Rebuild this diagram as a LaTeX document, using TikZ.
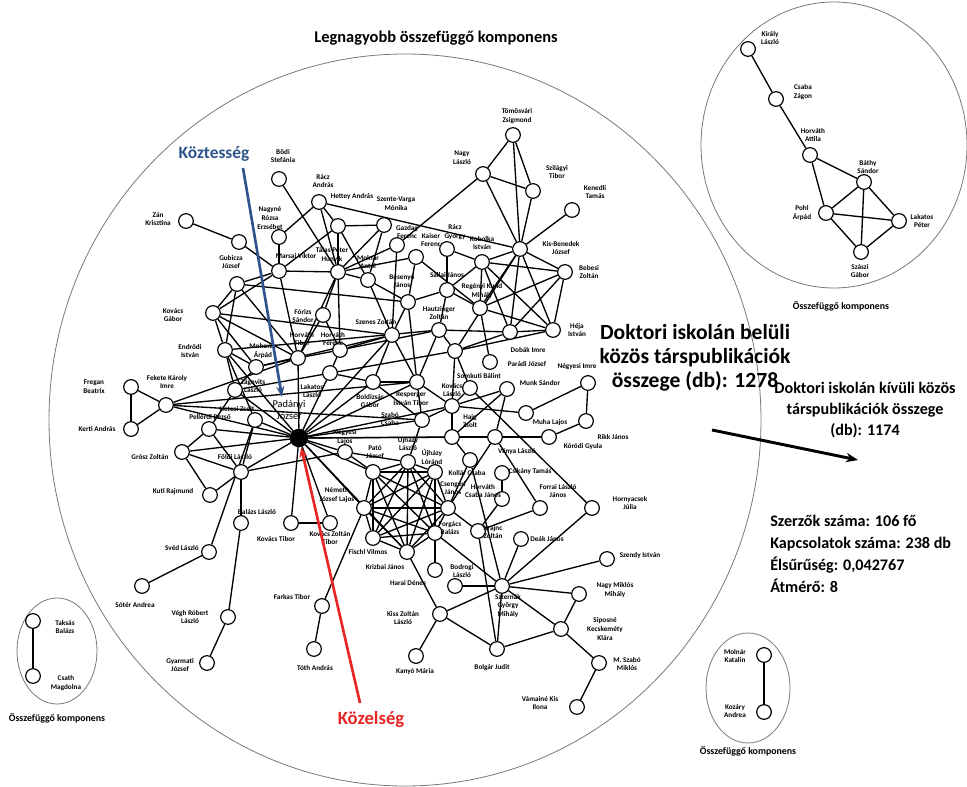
\documentclass[tikz,border=0pt]{standalone}
\usepackage{fontspec}
\setmainfont{Carlito}
\usetikzlibrary{arrows.meta,backgrounds}
\definecolor{betwblue}{RGB}{46,84,140}
\definecolor{closered}{RGB}{232,38,38}
\definecolor{ringgray}{RGB}{120,120,120}
\begin{document}
\begin{tikzpicture}[x=0.75pt,y=-0.75pt,
  vx/.style={circle,draw,fill=white,line width=0.9pt,inner sep=0pt,minimum size=11pt},
  hubvx/.style={circle,draw,fill=black,line width=0.9pt,inner sep=0pt,minimum size=13pt},
  lbl/.style={font=\fontsize{5.4}{6.6}\selectfont\bfseries,align=center,inner sep=0pt},
  tie/.style={line width=1pt},
  ring/.style={draw=ringgray,line width=0.6pt},
  bigtxt/.style={font=\fontsize{16.2}{18}\selectfont\bfseries,align=center,inner sep=0pt},
  midtxt/.style={font=\fontsize{12.1}{16}\selectfont\bfseries,inner sep=0pt},
  comptxt/.style={font=\fontsize{7.4}{9}\selectfont\bfseries,inner sep=0pt}]
\useasboundingbox (0,0) rectangle (967,787);

% component outlines
\draw[ring] (405,420) ellipse [x radius=267pt, y radius=274.5pt];
\draw[ring] (834,145) ellipse [x radius=99.75pt, y radius=107.25pt];
\draw[ring] (57,651) ellipse [x radius=30pt, y radius=39.75pt];
\draw[ring] (748,688) ellipse [x radius=31.5pt, y radius=41.25pt];

% vertices of the largest component
\foreach \n/\x/\y in {bodi/279/179, raczA/319/202, hettey/338/226, szente/384/225,
  gazdag/397/245, kaiser/416/257, raczGy/447/249, kobolka/482/262, kisben/520/249,
  tomos/513/135, nagyL/483/174, szil/533/191, kenedli/572/210, bebesi/565/272,
  heja/553/330, dobak/510/332, paradi/490/362, regenyi/480/308, sallai/447/290,
  besenyo/408/302, molnarA/368/280, talas/338/272, marsai/279/271, nagyne/279/237,
  zan/186/221, gubA/239/242, gubicza/237/284, kovG/213/313, endrodi/225/350,
  forizs/323/315, hautz/439/330, szenes/392/335, horvT/298/358, horvF/340/350,
  mohoray/256/367, nmid/455/351, lakatos/330/373, boldiz/373/382, resperger/417/382,
  somkuti/470/388, kovL/452/406, szabo/422/420, haig/452/437, vanya/495/437,
  munk/507/389, muha/526/413, negyesiI/588/383, rikk/586/421, korodi/549/437,
  kollar/470/460, csikany/502/473, hcsj/502/499, forrai/540/508, hornyacsek/592/508,
  krajnc/478/531, deak/521/539, szendy/607/559, szternak/502/586, nagyMM/579/594,
  siposne/561/629, mszabo/599/663, vamaine/577/707, bolgar/497/649, kanyo/416/656,
  kiss/440/614, bodrogi/455/586, harai/435/570, krizbai/407/552, fischl/373/538,
  forgacs/435/533, csengeri/448/508, ujhLo/435/472, ujhL/408/462, pato/373/472,
  negyesiL/345/452, nemeth/364/508, hetesi/255/420, zagovits/235/390,
  pellerdi/209/429, fekete/166/405, fregan/131/387, kerti/131/429, grosz/182/452,
  foldi/241/472, kuti/210/495, balazs/241/523, kovT/291/523, kovZT/330/523,
  sved/209/552, soter/142/586, vegh/228/617, gyarmati/207/663, farkas/322/606,
  toth/314/649}
  \node[vx] (\n) at (\x,\y) {};
\node[hubvx] (padanyi) at (299,438) {};

% vertices of the smaller components
\foreach \n/\x/\y in {kiraly/748/49, csabaZ/776/99, horvA/810/155, bathy/864/182,
  pohl/826/213, lakatosP/899/221, szaszi/861/252, taksas/33/621, csath/33/676,
  molnarK/764/655, kozary/764/712}
  \node[vx] (\n) at (\x,\y) {};

% names
\foreach \n/\x/\y/\t in {bodi/283/156/{Bödi\\Stefánia}, raczA/323/181/{Rácz\\András},
  hettey/352/197/{Hettey András}, szente/396/204/{Szente-Varga\\Mónika},
  gazdag/407/232/{Gazdag\\Ferenc}, kaiser/431/240/{Kaiser\\Ferenc},
  raczGy/455/232/{Rácz\\György}, kobolka/482/243/{Kobolka\\István},
  kisben/561/248/{Kis-Benedek\\József}, tomos/517/116/{Tömösvári\\Zsigmond},
  nagyL/462/158/{Nagy\\László}, szil/557/172/{Szilágyi\\Tibor},
  kenedli/595/192/{Kenedli\\Tamás}, bebesi/589/272/{Bebesi\\Zoltán},
  heja/577/330/{Héja\\István}, dobak/528/350/{Dobák Imre},
  paradi/527/364/{Parádi József}, regenyi/482/291/{Regényi Kund\\Mihály},
  sallai/447/275/{Sallai János}, besenyo/402/281/{Besenyő\\János},
  molnarA/368/262/{Molnár\\Antal}, talas/332/255/{Tálas Péter\\Hunyik},
  marsai/296/256/{Marsai Viktor}, nagyne/270/218/{Nagyné\\Rózsa\\Erzsébet},
  zan/158/219/{Zán\\Krisztina}, gubicza/231/262/{Gubicza\\József},
  kovG/173/315/{Kovács\\Gábor}, endrodi/190/351/{Endrődi\\István},
  forizs/303/316/{Fórizs\\Sándor}, hautz/439/313/{Hautzinger\\Zoltán},
  szenes/376/322/{Szenes Zoltán}, horvT/302/339/{Horváth\\Tibor},
  horvF/333/339/{Horváth\\Ferenc}, mohoray/263/351/{Mohoray\\Árpád},
  lakatos/312/391/{Lakatos\\László}, boldiz/370/401/{Boldizsár\\Gábor},
  resperger/411/399/{Resperger\\István Tibor}, somkuti/479/376/{Somkuti Bálint},
  kovL/452/390/{Kovács\\László}, szabo/390/419/{Szabó\\Csaba},
  haig/470/421/{Haig\\Zsolt}, vanya/517/452/{Ványa László},
  munk/540/383/{Munk Sándor}, muha/550/423/{Muha Lajos},
  negyesiI/577/367/{Négyesi Imre}, rikk/613/437/{Rikk János},
  korodi/583/447/{Kóródi Gyula}, kollar/467/473/{Kollár Csaba},
  csikany/530/472/{Csikány Tamás}, hcsj/483/491/{Horváth\\Csaba János},
  forrai/558/491/{Forrai László\\János}, hornyacsek/630/503/{Hornyacsek\\Júlia},
  krajnc/493/532/{Krajnc\\Zoltán}, deak/547/539/{Deák János},
  szendy/640/556/{Szendy István}, szternak/508/606/{Szternák\\György\\Mihály},
  nagyMM/615/590/{Nagy Miklós\\Mihály}, siposne/605/629/{Siposné\\Kecskeméty\\Klára},
  mszabo/627/664/{M. Szabó\\Miklós}, vamaine/540/703/{Vámainé Kis\\Ilona},
  bolgar/492/668/{Bolgár Judit}, kanyo/415/672/{Kanyó Mária},
  kiss/403/618/{Kiss Zoltán\\László}, bodrogi/462/571/{Bodrogi\\László},
  harai/408/583/{Harai Dénes}, krizbai/385/567/{Krizbai János},
  fischl/368/552/{Fischl Vilmos}, forgacs/450/528/{Forgács\\Balázs},
  csengeri/453/488/{Csengeri\\János}, ujhLo/432/457/{Újházy\\Lóránd},
  ujhL/408/444/{Ujházy\\László}, pato/375/452/{Pató\\József},
  negyesiL/345/437/{Négyesi\\Lajos}, nemeth/337/495/{Németh\\József Lajos},
  hetesi/237/409/{Hetesi Zsolt}, zagovits/253/386/{Zágovits\\László},
  pellerdi/210/417/{Pellérdi Rezső}, fekete/167/382/{Fekete Károly\\Imre},
  fregan/94/387/{Fregan\\Beatrix}, kerti/97/429/{Kerti András},
  grosz/150/457/{Grósz Zoltán}, foldi/235/457/{Földi László},
  kuti/173/492/{Kuti Rajmund}, balazs/257/512/{Balázs László},
  kovT/276/539/{Kovács Tibor}, kovZT/330/538/{Kovács Zoltán\\Tibor},
  sved/182/548/{Svéd László}, soter/135/605/{Sótér Andrea},
  vegh/190/617/{Végh Róbert\\László}, gyarmati/180/665/{Gyarmati\\József},
  farkas/292/597/{Farkas Tibor}, toth/315/668/{Tóth András},
  kiraly/770/38/{Király\\László}, csabaZ/803/92/{Csaba\\Zágon},
  horvA/813/135/{Horváth\\Attila}, bathy/868/167/{Báthy\\Sándor},
  pohl/802/213/{Pohl\\Árpád}, lakatosP/922/221/{Lakatos\\Péter},
  szaszi/860/271/{Szászi\\Gábor}, taksas/65/627/{Taksás\\Balázs},
  csath/66/683/{Csath\\Magdolna}, molnarK/735/656/{Molnár\\Katalin},
  kozary/735/711/{Kozáry\\Andrea}}
  \node[lbl] (l-\n) at (\x,\y) {\t};
\node[font=\fontsize{7.8}{9.4}\selectfont,align=center,inner sep=0pt] (l-padanyi) at (289,410) {Padányi\\József};

% co-authorship ties
\begin{scope}[on background layer]
\foreach \a/\b in {zan/gubA, gubA/marsai, bodi/talas, nagyne/raczA, nagyne/marsai,
  raczA/hettey, raczA/talas, raczA/kisben, hettey/szente, hettey/talas, hettey/marsai,
  hettey/molnarA, szente/molnarA, szente/talas, gazdag/nagyL, gazdag/szenes,
  gazdag/talas, kaiser/besenyo, kaiser/regenyi, talas/kaiser, talas/molnarA,
  raczGy/sallai, raczGy/kobolka, kobolka/kisben, kobolka/bebesi, kobolka/heja,
  kobolka/dobak, kobolka/regenyi, kobolka/sallai, kisben/tomos, kisben/nagyL,
  kisben/szil, kisben/kenedli, kisben/bebesi, kisben/heja, kisben/dobak,
  kisben/regenyi, kisben/nmid, tomos/nagyL, tomos/szil, nagyL/szil, regenyi/bebesi,
  regenyi/heja, dobak/bebesi, dobak/heja, bebesi/heja, nmid/dobak, nmid/heja,
  regenyi/paradi, sallai/regenyi, hautz/dobak, hautz/nmid, sallai/hautz,
  marsai/talas, marsai/gubicza, marsai/horvT, marsai/kovG, gubicza/kovG,
  gubicza/endrodi, gubicza/horvT, gubicza/besenyo, kovG/endrodi, kovG/horvT,
  kovG/mohoray, kovG/szenes, endrodi/mohoray, endrodi/zagovits, endrodi/padanyi,
  endrodi/hetesi, endrodi/hautz, horvT/padanyi, horvT/horvF, horvT/forizs,
  horvT/fekete, horvT/talas, horvF/forizs, horvF/talas, horvF/lakatos, horvF/szenes,
  horvF/hautz, forizs/talas, mohoray/horvT, mohoray/zagovits, mohoray/szenes,
  szenes/besenyo, szenes/boldiz, szenes/molnarA, szenes/resperger, besenyo/molnarA,
  besenyo/resperger, besenyo/sallai, lakatos/padanyi, lakatos/boldiz,
  boldiz/resperger, boldiz/padanyi, boldiz/szabo, resperger/kovL, resperger/szabo,
  resperger/hautz, szabo/padanyi, szabo/kovL, szabo/ujhL, kovL/somkuti, kovL/munk,
  kovL/haig, kovL/muha, kovL/nmid, somkuti/nmid, somkuti/hornyacsek, haig/vanya,
  haig/kollar, haig/munk, munk/vanya, muha/negyesiI, negyesiI/rikk, rikk/korodi,
  korodi/vanya, vanya/forrai, padanyi/fekete, padanyi/zagovits, padanyi/hetesi,
  padanyi/pellerdi, padanyi/foldi, padanyi/kovT, padanyi/kovZT, padanyi/negyesiL,
  padanyi/nemeth, padanyi/pato, padanyi/krizbai, padanyi/haig, padanyi/vanya,
  padanyi/kovL, padanyi/resperger, padanyi/grosz, padanyi/szenes, fekete/fregan,
  fekete/kerti, fregan/kerti, fekete/szabo, fekete/resperger, zagovits/pellerdi,
  zagovits/nmid, hetesi/foldi, pellerdi/grosz, pellerdi/foldi, sved/hetesi,
  grosz/kuti, grosz/foldi, foldi/kuti, foldi/balazs, foldi/negyesiL, balazs/vegh,
  vegh/gyarmati, sved/soter, kovT/kovZT, farkas/nemeth, farkas/toth,
  nemeth/pato, nemeth/ujhL, nemeth/ujhLo, nemeth/csengeri, nemeth/forgacs,
  nemeth/krizbai, nemeth/fischl, pato/ujhL, pato/ujhLo, pato/csengeri, pato/forgacs,
  pato/krizbai, pato/fischl, ujhL/ujhLo, ujhL/csengeri, ujhL/forgacs, ujhL/krizbai,
  ujhL/fischl, ujhLo/csengeri, ujhLo/forgacs, ujhLo/krizbai, ujhLo/fischl,
  csengeri/forgacs, csengeri/krizbai, csengeri/fischl, forgacs/krizbai,
  forgacs/fischl, krizbai/fischl, negyesiL/pato, negyesiL/ujhL, ujhLo/harai,
  krizbai/kiss, forgacs/szternak, bodrogi/szternak, kiss/szternak, kiss/kanyo,
  kiss/bolgar, csengeri/krajnc, csengeri/vanya, kollar/csengeri, krajnc/hcsj,
  krajnc/forrai, krajnc/bolgar, csikany/hcsj, szternak/deak, szternak/szendy,
  szternak/nagyMM, szternak/siposne, szternak/hornyacsek, szternak/bolgar,
  szternak/kollar, siposne/nagyMM, siposne/bolgar, siposne/mszabo, mszabo/vamaine,
  kiraly/csabaZ, csabaZ/horvA, horvA/bathy, horvA/pohl, bathy/pohl, bathy/lakatosP,
  bathy/szaszi, pohl/lakatosP, pohl/szaszi, lakatosP/szaszi, taksas/csath,
  molnarK/kozary}
  \draw[tie] (\a) -- (\b);
\end{scope}

% headings and figures
\node[font=\fontsize{12.3}{14}\selectfont\bfseries,inner sep=0pt] (title) at (436,38) {Legnagyobb összefüggő komponens};
\node[bigtxt] (inner) at (695,358) {Doktori iskolán belüli\\közös társpublikációk\\összege (db): 1278};
\node[midtxt,align=center] (outer) at (865,410) {Doktori iskolán kívüli közös\\társpublikációk összege\\(db): 1174};
\node[midtxt,align=left,anchor=west,font=\fontsize{12.1}{16.5}\selectfont\bfseries] (stats) at (770,554) {Szerzők száma: 106 fő\\Kapcsolatok száma: 238 db\\Élsűrűség: 0,042767\\Átmérő: 8};
\node[comptxt] (c1) at (841,306) {Összefüggő komponens};
\node[comptxt] (c2) at (57,718) {Összefüggő komponens};
\node[comptxt] (c3) at (748,751) {Összefüggő komponens};

\coordinate (outA) at (712,430);
\coordinate (outB) at (858,460);
\draw[line width=2.2pt,-{Stealth[length=9pt,width=7pt]}] (outA) -- (outB);

\node[font=\fontsize{13}{15}\selectfont\bfseries,text=betwblue,inner sep=0pt] (betw) at (214,154) {Köztesség};
\coordinate (betwA) at (243,168);
\coordinate (betwB) at (282,397);
\draw[betwblue,line width=2pt,-{Stealth[length=8pt,width=6pt]}] (betwA) -- (betwB);

\node[font=\fontsize{14}{16}\selectfont\bfseries,text=closered,inner sep=0pt] (clos) at (371,720) {Közelség};
\coordinate (closA) at (360,703);
\draw[closered,line width=2pt,-{Stealth[length=8pt,width=6pt]}] (closA) -- (padanyi);
\end{tikzpicture}
\end{document}
